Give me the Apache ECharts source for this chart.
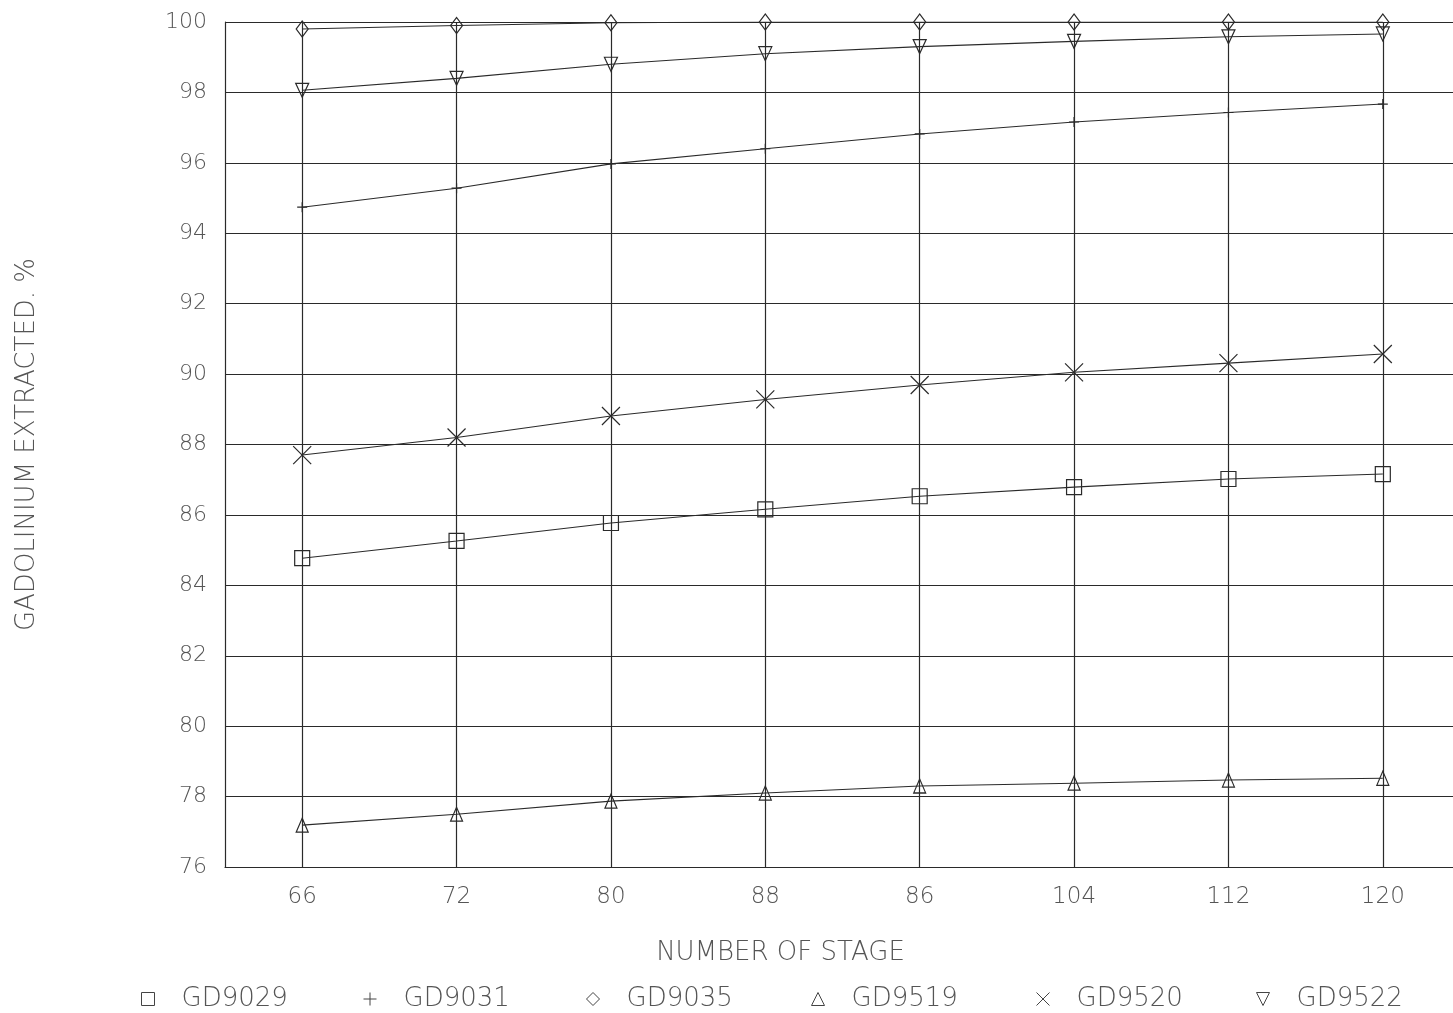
<!DOCTYPE html>
<html>
<head>
<meta charset="utf-8">
<script src="https://cdn.jsdelivr.net/npm/echarts@6/dist/echarts.min.js"></script>
<style>
html,body{margin:0;padding:0;background:#fff;}
#chart{width:1453px;height:1013px;}
</style>
</head>
<body>
<div id="chart"></div>
<script>
const categories = ['66', '72', '80', '88', '86', '104', '112', '120'];
const gd9029 = [84.77, 85.26, 85.77, 86.16, 86.53, 86.79, 87.02, 87.16];
const gd9031 = [94.74, 95.28, 95.97, 96.40, 96.82, 97.16, 97.43, 97.67];
const gd9035 = [99.80, 99.90, 99.98, 100, 100, 100, 100, 100];
const gd9519 = [77.19, 77.50, 77.87, 78.10, 78.30, 78.38, 78.47, 78.52];
const gd9520 = [87.70, 88.20, 88.81, 89.28, 89.69, 90.05, 90.31, 90.57];
const gd9522 = [98.06, 98.40, 98.80, 99.10, 99.30, 99.45, 99.58, 99.66];
const seriesNames = ['GD9029', 'GD9031', 'GD9035', 'GD9519', 'GD9520', 'GD9522'];

const INK = '#2a2a2a';
const TXT = '#555';
const FONT = '"DejaVu Sans", sans-serif';
const FW = 200;
const PLUS = 'path://M0,5L10,5M5,0L5,10';
const CROSS = 'path://M0,0L10,10M10,0L0,10';

const symStyle = {color: 'none', borderColor: INK, borderWidth: 1.2};

function mkSeries(name, data, symbol, size, rotate) {
  return {
    name: name, type: 'line', data: data, symbol: symbol, symbolSize: size,
    symbolRotate: rotate || 0, showAllSymbol: true,
    itemStyle: symStyle,
    lineStyle: {color: INK, width: 1.1},
    emphasis: {disabled: true},
    animation: false, z: 3
  };
}

const series = [
  mkSeries('GD9029', gd9029, 'rect', 15),
  mkSeries('GD9031', gd9031, PLUS, 10),
  mkSeries('GD9035', gd9035, 'diamond', [12, 16]),
  mkSeries('GD9519', gd9519, 'triangle', [12, 14]),
  mkSeries('GD9520', gd9520, CROSS, 18),
  mkSeries('GD9522', gd9522, 'triangle', [13, 14], 180)
];
// vertical lines at each category
series[0].markLine = {
  silent: true, symbol: ['none', 'none'], animation: false,
  label: {show: false},
  lineStyle: {color: INK, width: 1.2, type: 'solid'},
  emphasis: {disabled: true},
  data: categories.map(c => ({xAxis: c}))
};

const legendIcons = ['rect', PLUS, 'diamond', 'triangle', CROSS, 'path://M0,0L10,0L5,10Z'];
const legendLeft = [134, 356, 579, 804, 1029, 1249];
const legends = seriesNames.map((n, i) => ({
  data: [{name: n, icon: legendIcons[i], itemStyle: {color: 'none', borderColor: '#444', borderWidth: 1}}],
  left: legendLeft[i], top: 981, itemWidth: 13, itemHeight: 13,
  selectedMode: false,
  textStyle: {fontFamily: FONT, fontWeight: FW, fontSize: 26, color: TXT, padding: [0, 0, 0, 22]}
}));

const chart = echarts.init(document.getElementById('chart'), null, {renderer: 'canvas'});
chart.setOption({
  animation: false,
  backgroundColor: '#fff',
  grid: {left: 225, top: 22, width: 1235, height: 845, containLabel: false, outerBoundsMode: 'none'},
  legend: legends,
  xAxis: {
    type: 'category', data: categories, boundaryGap: true,
    name: 'NUMBER OF STAGE', nameLocation: 'middle', nameGap: 73,
    nameTextStyle: {fontFamily: FONT, fontWeight: FW, fontSize: 26, color: TXT, padding: [0, 124, 0, 0]},
    axisLine: {show: true, lineStyle: {color: INK, width: 1.2}},
    axisTick: {show: false},
    axisLabel: {fontFamily: FONT, fontWeight: FW, fontSize: 23, color: TXT, margin: 19},
    splitLine: {show: false}
  },
  yAxis: {
    type: 'value', min: 76, max: 100, interval: 2,
    name: 'GADOLINIUM EXTRACTED. %', nameLocation: 'middle', nameGap: 185, nameRotate: 90,
    nameTextStyle: {fontFamily: FONT, fontWeight: FW, fontSize: 26, color: TXT},
    axisLine: {show: true, lineStyle: {color: INK, width: 1.2}},
    axisTick: {show: false},
    axisLabel: {fontFamily: FONT, fontWeight: FW, fontSize: 22, color: TXT, margin: 18},
    splitLine: {show: true, lineStyle: {color: INK, width: 1.2}}
  },
  series: series
});
</script>
</body>
</html>
